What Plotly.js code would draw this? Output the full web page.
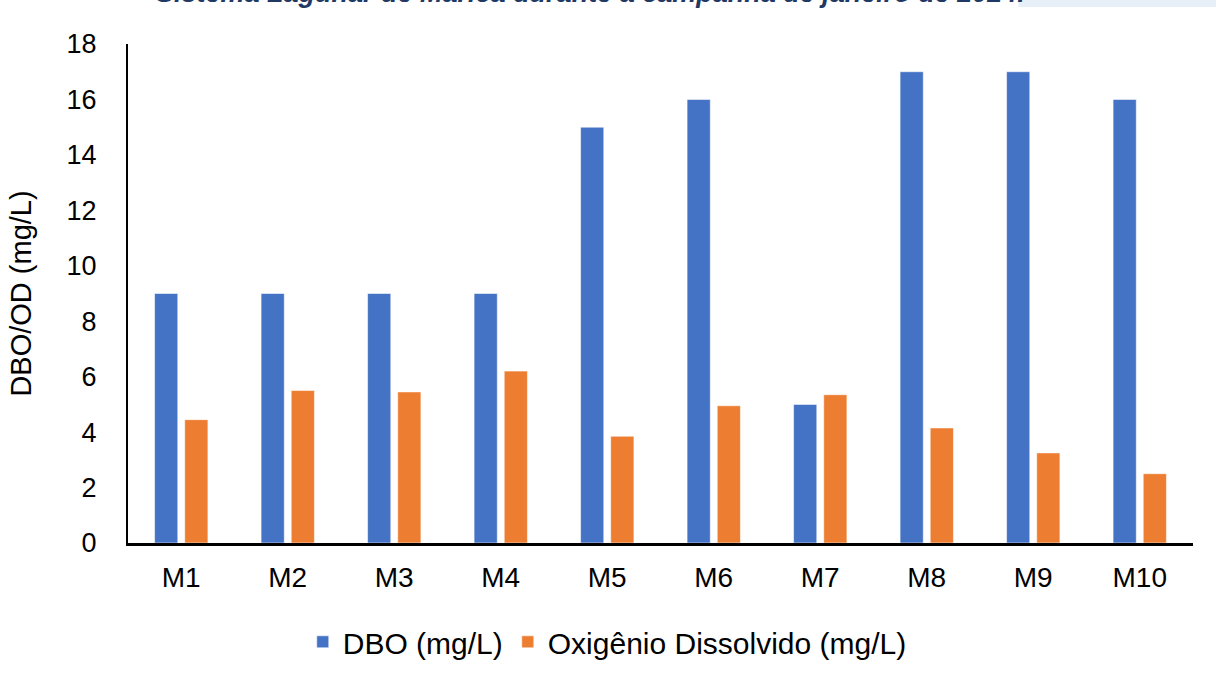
<!DOCTYPE html>
<html>
<head>
<meta charset="utf-8">
<script src="https://cdn.plot.ly/plotly-3.0.1.min.js"></script>
<style>html,body{margin:0;padding:0;background:#fff;}#chart{width:1216px;height:684px;}</style>
</head>
<body>
<div id="chart"></div>
<script>
const categories = ['M1','M2','M3','M4','M5','M6','M7','M8','M9','M10'];
const dbo = [9, 9, 9, 9, 15, 16, 5, 17, 17, 16];
const od = [4.45, 5.5, 5.45, 6.2, 3.85, 4.95, 5.35, 4.15, 3.25, 2.5];
const seriesNames = ['DBO (mg/L)', 'Oxigênio Dissolvido (mg/L)'];
const yTicks = [0, 2, 4, 6, 8, 10, 12, 14, 16, 18];
const titleText = 'Sistema Lagunar de Maricá durante a campanha de janeiro de 2024.';

const font = 'Liberation Sans, Arial, sans-serif';
const traces = [
  {type:'bar', name:seriesNames[0], x:categories, y:dbo,
   marker:{color:'#4472C4', line:{color:'rgba(255,255,255,0.55)', width:1}}},
  {type:'bar', name:seriesNames[1], x:categories, y:od,
   marker:{color:'#ED7D31', line:{color:'rgba(255,255,255,0.55)', width:1}}}
];
const layout = {
  width:1216, height:684,
  margin:{l:128, r:23, t:44, b:141},
  paper_bgcolor:'#fff', plot_bgcolor:'#fff',
  barmode:'group', bargap:0.434, bargroupgap:0.23,
  font:{family:font, size:27, color:'#000'},
  showlegend:true,
  legend:{orientation:'h', x:0.45, xanchor:'center', y:-0.198, yanchor:'middle',
          font:{family:font, size:30, color:'#000'}, traceorder:'normal', itemwidth:30},
  xaxis:{type:'category', showline:true, linecolor:'#000', linewidth:3,
         showgrid:false, zeroline:false, ticks:'', ticklabelstandoff:7,
         tickfont:{family:font, size:28, color:'#000'}},
  yaxis:{range:[0,18], tickvals:yTicks, showline:true, linecolor:'#000', linewidth:2,
         showgrid:false, zeroline:false, ticks:'', ticklabelstandoff:24,
         tickfont:{family:font, size:27, color:'#000'},
         title:{text:'DBO/OD (mg/L)', font:{family:font, size:29, color:'#000'}, standoff:26}},
  shapes:[{type:'rect', xref:'paper', yref:'paper', x0:0.836, x1:1.03, y0:1.074, y1:1.1,
           fillcolor:'#E7EFF8', line:{width:0}, layer:'below'}],
  annotations:[{xref:'paper', yref:'paper', x:0.434, y:1.07, xanchor:'center', yanchor:'bottom',
                text:'<b><i>'+titleText+'</i></b>', showarrow:false, borderpad:0,
                font:{family:font, size:27, color:'#1F3864'}}]
};
Plotly.newPlot('chart', traces, layout, {displayModeBar:false, staticPlot:true});
</script>
</body>
</html>
